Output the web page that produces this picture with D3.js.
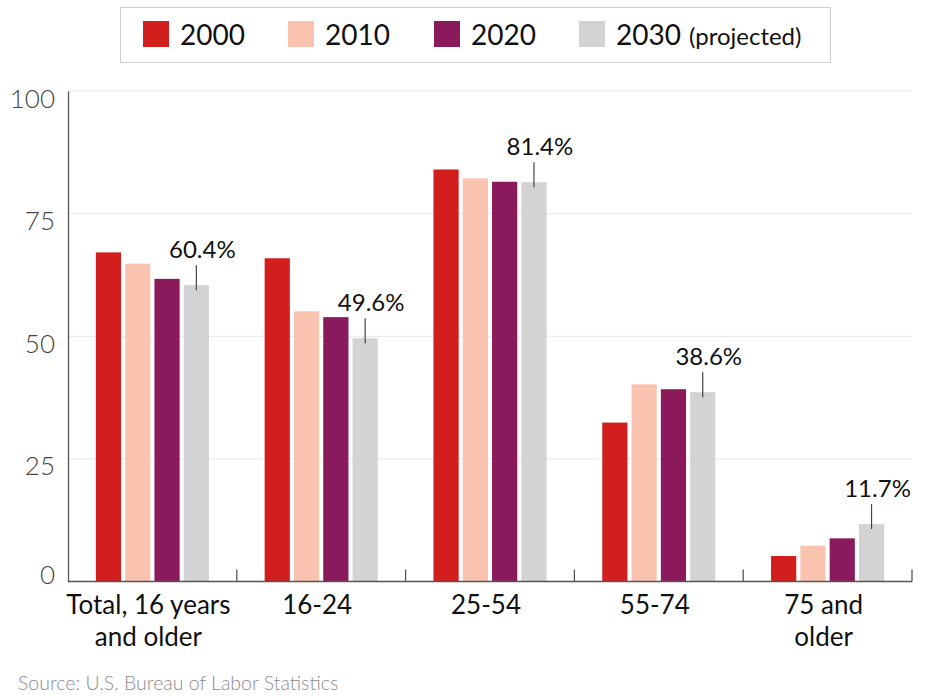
<!DOCTYPE html>
<html>
<head>
<meta charset="utf-8">
<script src="https://cdn.jsdelivr.net/npm/d3@7"></script>
<style>
  body { margin: 0; background: #fff; }
  svg { font-family: Lato, "Open Sans", sans-serif; }
</style>
</head>
<body>
<svg width="932" height="699"></svg>
<script>
// chart data
let groups = ['Total, 16 years|and older', '16-24', '25-54', '55-74', '75 and|older'];
let years = ['2000', '2010', '2020', '2030'];
let v2000 = [67.1, 65.9, 84.0, 32.4, 5.2];
let v2010 = [64.8, 55.1, 82.2, 40.2, 7.3];
let v2020 = [61.7, 53.9, 81.5, 39.2, 8.8];
let v2030 = [60.4, 49.6, 81.4, 38.6, 11.7];
let yTicks = [0, 25, 50, 75, 100];
let colors = ['#d21e1c', '#f9c3b0', '#8a1a5b', '#d3d3d3'];

let series = [v2000, v2010, v2020, v2030];

let svg = d3.select('svg');

let plotLeft = 68, plotRight = 912, plotTop = 91, plotBottom = 581.5;
let pad = 0.33;

let x0 = d3.scaleBand()
  .domain(groups)
  .range([plotLeft, plotRight])
  .paddingInner(pad)
  .paddingOuter(pad / 2);

let x1 = d3.scaleBand()
  .domain(years)
  .range([0, x0.bandwidth()])
  .paddingInner(0.14);

let y = d3.scaleLinear()
  .domain([0, 100])
  .range([plotBottom, plotTop]);

// gridlines
svg.append('g')
  .selectAll('line')
  .data(yTicks.filter(d => d > 0))
  .enter()
  .append('line')
  .attr('x1', plotLeft)
  .attr('x2', plotRight)
  .attr('y1', d => y(d))
  .attr('y2', d => y(d))
  .attr('stroke', '#e6e6e6')
  .attr('stroke-width', 1);

// bars
groups.forEach((g, i) => {
  svg.append('g')
    .attr('transform', 'translate(' + x0(g) + ',0)')
    .selectAll('rect')
    .data(years)
    .enter()
    .append('rect')
    .attr('x', yr => x1(yr))
    .attr('width', x1.bandwidth())
    .attr('y', (yr, j) => y(series[j][i]))
    .attr('height', (yr, j) => y(0) - y(series[j][i]))
    .attr('fill', (yr, j) => colors[j]);
});

// y axis
let yAxis = svg.append('g')
  .attr('transform', 'translate(' + plotLeft + ',0)')
  .call(d3.axisLeft(y).tickValues(yTicks).tickSize(0).tickPadding(13));
yAxis.select('.domain').attr('stroke', '#555').attr('stroke-width', 1.3);
yAxis.selectAll('text')
  .attr('font-family', 'Lato, sans-serif')
  .attr('font-size', 26)
  .attr('font-weight', 300)
  .attr('fill', '#444')
  .attr('dy', d => d === 0 ? 2 : 16); // zero label sits just above the axis

// x axis line + ticks at band boundaries
svg.append('line')
  .attr('x1', plotLeft).attr('x2', plotRight)
  .attr('y1', y(0)).attr('y2', y(0))
  .attr('stroke', '#555').attr('stroke-width', 1.3);

let bounds = groups.map(g => x0(g) - x0.step() * pad / 2).concat([plotRight]);
svg.append('g')
  .selectAll('line')
  .data(bounds.slice(1))
  .enter()
  .append('line')
  .attr('x1', d => d).attr('x2', d => d)
  .attr('y1', y(0) - 12).attr('y2', y(0))
  .attr('stroke', '#555').attr('stroke-width', 1.3);

// category labels
groups.forEach(g => {
  let t = svg.append('text')
    .attr('x', x0(g) + x0.bandwidth() / 2 - 4)
    .attr('y', 614)
    .attr('text-anchor', 'middle')
    .attr('font-size', 26)
    .attr('fill', '#111');
  g.split('|').forEach((line, k) => {
    t.append('tspan')
      .attr('x', x0(g) + x0.bandwidth() / 2 - 4)
      .attr('dy', k === 0 ? 0 : 32)
      .text(line);
  });
});

// 2030 value callouts
groups.forEach((g, i) => {
  let cx = x0(g) + x1('2030') + x1.bandwidth() / 2;
  let yt = y(v2030[i]);
  svg.append('line')
    .attr('x1', cx).attr('x2', cx)
    .attr('y1', yt - 20).attr('y2', yt + 5)
    .attr('stroke', '#444').attr('stroke-width', 1.2);
  svg.append('text')
    .attr('x', cx + 6)
    .attr('y', yt - 27)
    .attr('text-anchor', 'middle')
    .attr('font-size', 24)
    .attr('fill', '#111')
    .text(v2030[i].toFixed(1) + '%');
});

// legend
let legend = svg.append('g');
legend.append('rect')
  .attr('x', 120.5).attr('y', 7.5)
  .attr('width', 710).attr('height', 55)
  .attr('fill', '#fff')
  .attr('stroke', '#cfcfcf');

let legX = [143, 288, 434, 579];
years.forEach((yr, j) => {
  legend.append('rect')
    .attr('x', legX[j]).attr('y', 21)
    .attr('width', 26).attr('height', 26)
    .attr('fill', colors[j]);
  let t = legend.append('text')
    .attr('x', legX[j] + 37)
    .attr('y', 45)
    .attr('font-size', 28)
    .attr('fill', '#111')
    .text(yr);
  if (yr === '2030') {
    t.append('tspan')
      .attr('font-size', 24)
      .attr('dx', 8)
      .text('(projected)');
  }
});

// source note
svg.append('text')
  .attr('x', 18)
  .attr('y', 690)
  .attr('font-size', 19.5)
  .attr('font-weight', 300)
  .attr('fill', '#8c8c8c')
  .text('Source: U.S. Bureau of Labor Statistics');
</script>
</body>
</html>
